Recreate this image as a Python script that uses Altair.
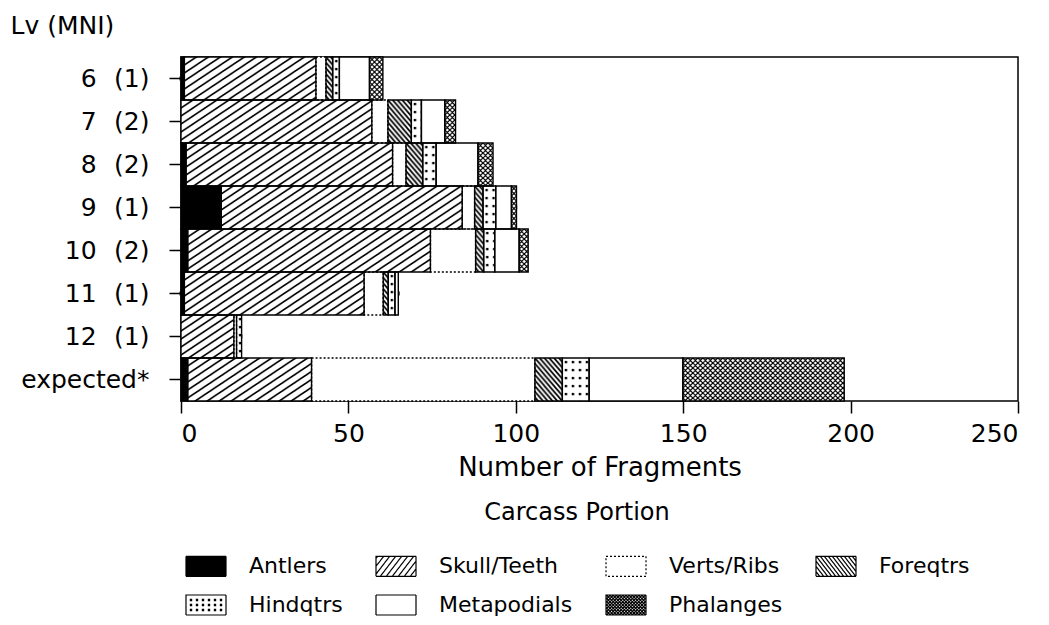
import base64
import altair as alt
import pandas as pd

# ---- data ----
FS = "\u2007"          # figure space: pads single-digit levels
SP = "\u2002\u2009"    # gap between level and (MNI)
levels = [FS + "6" + SP + "(1)", FS + "7" + SP + "(2)", FS + "8" + SP + "(2)",
          FS + "9" + SP + "(1)", "10" + SP + "(2)", "11" + SP + "(1)",
          "12" + SP + "(1)", "expected*"]
parts = ["Antlers", "Skull/Teeth", "Verts/Ribs", "Foreqtrs",
         "Hindqtrs", "Metapodials", "Phalanges"]

antlers     = [1.0, 0.0, 1.5, 12.0, 2.0, 1.0, 0.0, 2.0]
skull       = [39.3, 57.0, 61.7, 72.0, 72.5, 53.7, 15.8, 37.0]
verts       = [3.0, 4.8, 4.0, 3.7, 13.5, 5.7, 0.8, 66.7]
foreqtrs    = [2.0, 7.0, 5.0, 2.5, 2.4, 1.5, 0.0, 8.2]
hindqtrs    = [2.0, 3.0, 4.0, 3.8, 3.3, 2.0, 1.5, 8.0]
metapodials = [9.0, 7.0, 12.5, 4.7, 7.3, 1.0, 0.0, 28.0]
phalanges   = [4.0, 3.2, 4.5, 1.5, 2.7, 0.0, 0.0, 48.2]

series = [antlers, skull, verts, foreqtrs, hindqtrs, metapodials, phalanges]

rows = []
for pi, (p, vals) in enumerate(zip(parts, series)):
    for lv, v in zip(levels, vals):
        rows.append({"level": lv, "part": p, "ord": pi, "value": v})
df = pd.DataFrame(rows)

# ---- fill patterns (style) ----
def tile(w, h, inner):
    svg = ('<svg xmlns="http://www.w3.org/2000/svg" width="100%" height="100%">'
           f'<defs><pattern id="p" patternUnits="userSpaceOnUse" width="{w}" height="{h}">{inner}</pattern></defs>'
           '<rect width="100%" height="100%" fill="url(#p)"/></svg>')
    return "data:image/svg+xml;base64," + base64.b64encode(svg.encode()).decode()

def fwd(w, h, sw):   # "/" lines
    d = "".join(f"M{c + w},{-h}L{c - 2 * w},{2 * h}" for c in (0, w, 2 * w))
    return f'<path d="{d}" stroke="black" stroke-width="{sw}" fill="none"/>'

def bwd(w, h, sw):   # "\" lines
    d = "".join(f"M{c - w},{-h}L{c + 2 * w},{2 * h}" for c in (-w, 0, w))
    return f'<path d="{d}" stroke="black" stroke-width="{sw}" fill="none"/>'

pat_url = {
    "Skull/Teeth": tile(12.0, 8, fwd(12.0, 8, 1.6)),
    "Foreqtrs": tile(4.8, 5.6, bwd(4.8, 5.6, 1.7)),
    "Hindqtrs": tile(7, 8, '<rect x="2.4" y="2.9" width="2.4" height="2.4" fill="black"/>'),
    "Phalanges": tile(5, 5, fwd(5, 5, 1.2) + bwd(5, 5, 1.2)),
}
pat_df = pd.DataFrame({"part": list(pat_url.keys()), "url": list(pat_url.values())})

# ---- legend swatch shapes (style) ----
BOX = "M-1,-0.5H1V0.5H-1Z"

def lines_path(dx, dy, spacing, hw=1.0, hh=0.5):
    segs = []
    c = -4.0
    while c <= 4.0:
        t0, t1, ok = -1e9, 1e9, True
        for p, q in ((-dx, c + hw), (dx, hw - c), (-dy, hh), (dy, hh)):
            if abs(p) < 1e-12:
                if q < 0:
                    ok = False
            else:
                r = q / p
                if p < 0:
                    t0 = max(t0, r)
                else:
                    t1 = min(t1, r)
        if ok and t1 - t0 > 1e-6:
            segs.append(f"M{c + t0 * dx:.3f},{t0 * dy:.3f}L{c + t1 * dx:.3f},{t1 * dy:.3f}")
        c += spacing
    return "".join(segs)

dots = "".join(f"M{x - 0.03:.3f},{y - 0.03:.3f}h0.06v0.06h-0.06Z"
               for x in (-0.75, -0.45, -0.15, 0.15, 0.45, 0.75) for y in (-0.25, 0.0, 0.25))

shape_range = [
    BOX,
    BOX + lines_path(1, -1.3, 0.3),
    BOX,
    BOX + lines_path(1, 1.3, 0.2),
    BOX + dots,
    BOX,
    BOX + lines_path(1, 1.0, 0.16) + lines_path(1, -1.0, 0.16),
]
fill_range = ["black", "white", "white", "white", "white", "white", "white"]
stroke_range = ["black"] * 7
dash_range = [[1, 0], [1, 0], [2, 2], [1, 0], [1, 0], [1, 0], [1, 0]]

FONT = "DejaVu Sans"

xscale = alt.Scale(domain=[0, 250], nice=False, zero=True)
yscale = alt.Scale(domain=levels, paddingInner=0, paddingOuter=0)

x_axis = alt.Axis(values=[0, 50, 100, 150, 200, 250], title="Number of Fragments",
                  labelFontSize=25, titleFontSize=26, titleFontWeight="normal",
                  tickSize=12, tickWidth=1.5, tickColor="black", labelPadding=8,
                  titlePadding=8, domain=False, grid=False, labelColor="black",
                  titleColor="black", labelFont=FONT, titleFont=FONT)
y_axis = alt.Axis(title="Lv (MNI)", titleAngle=0, titleAlign="left", titleBaseline="middle",
                  titleX=-171, titleY=-32, titleFontSize=25, titleFontWeight="normal",
                  labelFontSize=25, tickSize=12, tickWidth=1.5, tickColor="black",
                  labelPadding=20, domain=False, grid=False, labelColor="black",
                  titleColor="black", labelFont=FONT, titleFont=FONT)

legend = alt.Legend(title="Carcass Portion", orient="none", legendX=4, legendY=444,
                    direction="horizontal", columns=4, symbolSize=1600,
                    symbolStrokeWidth=1.2, symbolStrokeColor="black", symbolOpacity=1,
                    labelFontSize=22, titleFontSize=24, titleFontWeight="normal",
                    titleAnchor="middle", titleAlign="center", titleLimit=600,
                    labelLimit=300, labelOffset=22,
                    columnPadding=30, rowPadding=5, titlePadding=20,
                    labelFont=FONT, titleFont=FONT, labelColor="black", titleColor="black")

color_scale = alt.Scale(domain=parts, range=fill_range)
stroke_scale = alt.Scale(domain=parts, range=stroke_range)
shape_scale = alt.Scale(domain=parts, range=shape_range)
dash_scale = alt.Scale(domain=parts, range=dash_range)

base = alt.Chart(df).transform_stack(
    stack="value", groupby=["level"], as_=["x0", "x1"],
    sort=[alt.SortField("ord", order="ascending")]
)

xenc = alt.X("x0:Q", scale=xscale, axis=x_axis)
yenc = alt.Y("level:N", scale=yscale, axis=y_axis, sort=levels)

# hidden behind the bars; carries the legend
legend_pts = base.transform_filter("datum.value > 0").transform_calculate(
    mid="(datum.x0 + datum.x1) / 2"
).mark_point(filled=True, strokeWidth=1.2, size=30).encode(
    x=alt.X("mid:Q", scale=xscale, axis=x_axis),
    y=yenc,
    color=alt.Color("part:N", scale=color_scale, legend=legend),
    stroke=alt.Stroke("part:N", scale=stroke_scale, legend=legend),
    shape=alt.Shape("part:N", scale=shape_scale, legend=legend),
    strokeDash=alt.StrokeDash("part:N", scale=dash_scale, legend=legend),
)

fills = base.mark_bar(strokeWidth=0).encode(
    x=xenc, x2="x1:Q", y=yenc,
    color=alt.Color("part:N", scale=color_scale, legend=None),
)

hatch = base.transform_filter("datum.value > 0").transform_lookup(
    lookup="part", from_=alt.LookupData(pat_df, "part", ["url"])
).transform_filter("isValid(datum.url)").mark_image(aspect=False).encode(
    x=xenc, x2="x1:Q", y=yenc, url="url:N",
)

outline = base.transform_filter("datum.value > 0").mark_bar(
    fill="white", fillOpacity=0, stroke="black", strokeWidth=1.4
).encode(
    x=xenc, x2="x1:Q", y=yenc,
    strokeDash=alt.StrokeDash("part:N", scale=dash_scale, legend=None),
)

chart = alt.layer(legend_pts, fills, hatch, outline).properties(
    width=837, height=344,
    padding={"left": 173, "top": 49, "right": 23, "bottom": 215},
    autosize=alt.AutoSizeParams(type="none"),
).configure(font=FONT).configure_view(stroke="black", strokeWidth=1.5)

chart.save("out.html", embed_options={"renderer": "svg", "actions": False})
